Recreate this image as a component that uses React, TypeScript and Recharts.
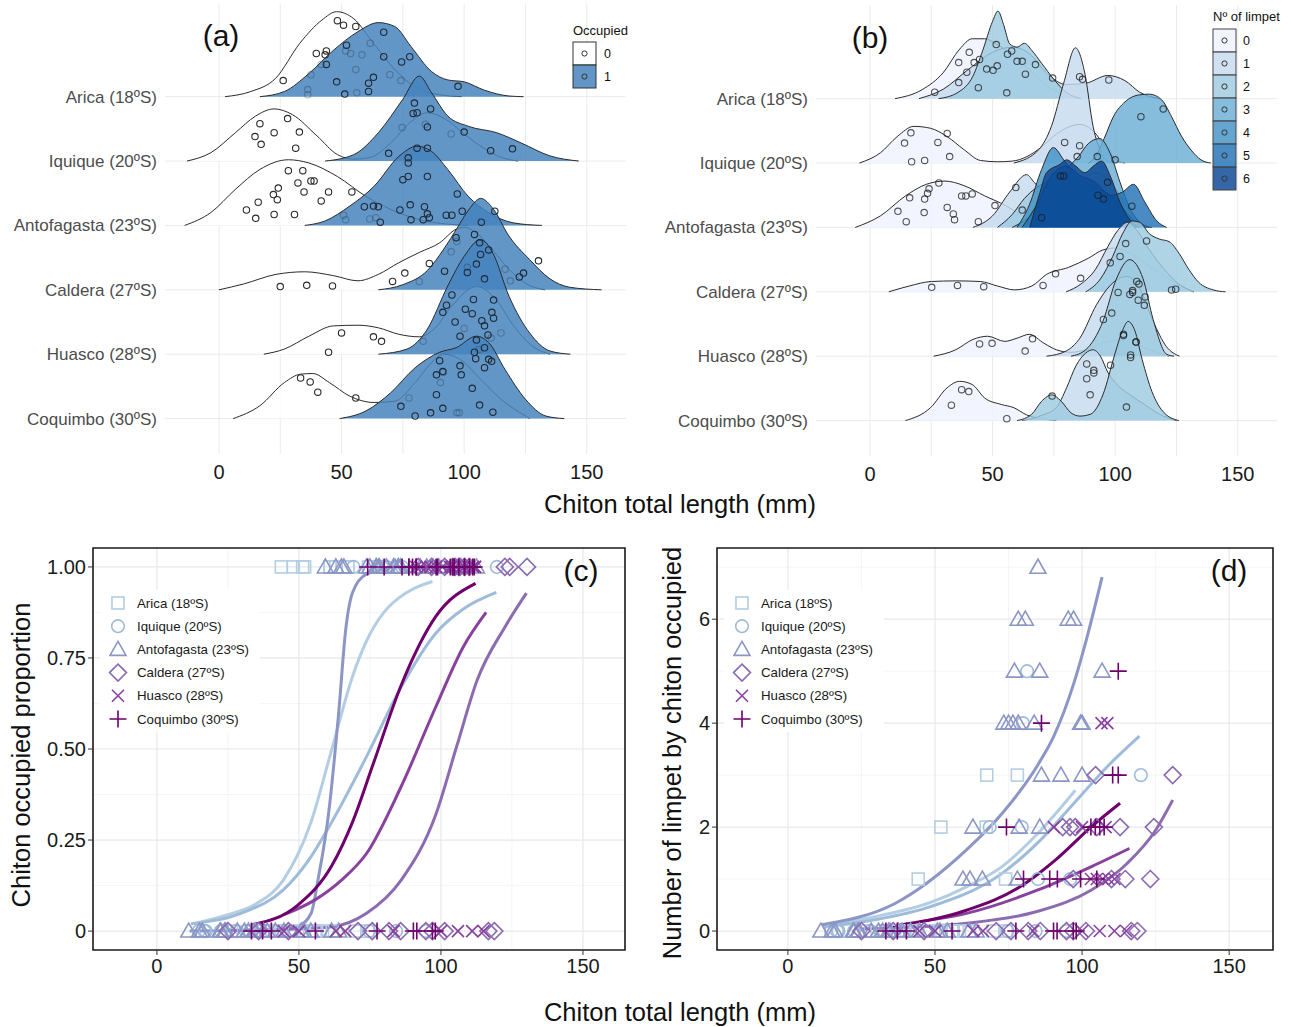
import React from "react";
import {
  Area,
  CartesianGrid,
  ComposedChart,
  Line,
  ReferenceArea,
  Scatter,
  XAxis,
  YAxis,
} from "recharts";

type Pair = [number, number];

const FONT = "'Liberation Sans', Arial, Helvetica, sans-serif";

const sites = [
  "Arica (18ºS)",
  "Iquique (20ºS)",
  "Antofagasta (23ºS)",
  "Caldera (27ºS)",
  "Huasco (28ºS)",
  "Coquimbo (30ºS)",
];

// ---- panel (a): density ridges by occupation (0 = free, 1 = occupied) ----
const aricaFree: Pair[] = [[2.5, 0], [13, 0.08], [23, 0.28], [33, 0.83], [42, 1.19], [48, 1.32], [55, 1.21], [63, 0.83], [72, 0.41], [80, 0.15], [90, 0.03], [99, 0]];
const aricaOcc: Pair[] = [[16.7, 0], [26.7, 0.08], [36.7, 0.36], [46.7, 0.72], [56.7, 1.01], [65, 1.15], [71.7, 1.09], [78.3, 0.78], [86.7, 0.39], [93.3, 0.26], [100, 0.23], [108.3, 0.1], [118.3, 0.01], [124.2, 0]];
const iquiqueFree: Pair[] = [[-13, 0], [-3.3, 0.13], [6.7, 0.44], [15, 0.7], [22.5, 0.81], [30, 0.72], [40, 0.39], [48.3, 0.1], [55, 0.03], [62, 0.06], [70, 0.28], [78, 0.6], [85, 0.75], [92, 0.66], [100, 0.42], [108, 0.2], [115, 0.06], [122, 0]];
const iquiqueOcc: Pair[] = [[43.3, 0], [55, 0.1], [65, 0.44], [75, 0.96], [81.7, 1.32], [86.7, 1.06], [93.3, 0.7], [101.7, 0.54], [113.3, 0.44], [123.3, 0.28], [135, 0.08], [146.7, 0]];
const antofaFree: Pair[] = [[-14, 0], [-3.3, 0.2], [6.7, 0.56], [16.7, 0.87], [28.3, 1.02], [36.7, 0.97], [48.3, 0.76], [60, 0.45], [70, 0.25], [81.7, 0.09], [93.3, 0.02], [101.7, 0]];
const antofaOcc: Pair[] = [[35, 0], [43.3, 0.07], [53.3, 0.3], [63.3, 0.61], [73.3, 1.07], [80.8, 1.23], [86.7, 1.15], [93.3, 0.87], [101.7, 0.45], [110, 0.2], [120, 0.04], [131.7, 0]];
const calderaFree: Pair[] = [[0, 0], [10, 0.09], [23.3, 0.24], [35, 0.28], [46.7, 0.22], [56.7, 0.14], [65, 0.24], [73.3, 0.42], [81.7, 0.58], [90, 0.73], [96.7, 0.94], [100, 0.97], [106, 0.85], [112, 0.6], [118, 0.33], [126, 0.08], [133, 0]];
const calderaOcc: Pair[] = [[65, 0], [75, 0.08], [85, 0.3], [92, 0.65], [97, 0.95], [102, 1.25], [106.7, 1.42], [112, 1.25], [118, 0.85], [126.7, 0.47], [135, 0.17], [143, 0.04], [156, 0]];
const huascoFree: Pair[] = [[18.3, 0], [26.7, 0.08], [36.7, 0.28], [46.7, 0.44], [56.7, 0.45], [65, 0.41], [73.3, 0.31], [81.7, 0.27], [88, 0.4], [95, 0.75], [105, 1.05], [113, 0.85], [120, 0.45], [128, 0.12], [135, 0]];
const huascoOcc: Pair[] = [[65, 0], [76.7, 0.08], [85, 0.39], [93.3, 1.06], [100, 1.52], [106.7, 1.78], [111.7, 1.57], [118.3, 0.9], [126.7, 0.33], [135, 0.05], [143.3, 0]];
const coquimboFree: Pair[] = [[5.8, 0], [16.7, 0.2], [26.7, 0.56], [33.3, 0.69], [38.3, 0.7], [45, 0.56], [53.3, 0.35], [63.3, 0.25], [71.7, 0.27], [80, 0.56], [86.7, 0.87], [91.7, 1.0], [98.3, 0.92], [106.7, 0.61], [115, 0.3], [125, 0.04], [126.7, 0]];
const coquimboOcc: Pair[] = [[49.2, 0], [60, 0.12], [70, 0.4], [80, 0.79], [90, 1.03], [96.7, 1.1], [105, 1.28], [110, 1.18], [116.7, 0.76], [125, 0.3], [133.3, 0.04], [140.8, 0]];

// chitons: [length, jitter height] ; free = no limpet, occ = with limpet
const aricaFreePts: Pair[] = [[26.2, 0.25], [37.5, 0.34], [39.7, 0.67], [43.3, 0.65], [43.8, 0.71], [41.7, 0.5], [48.3, 1.18], [50.8, 1.11], [51.7, 0.71], [53.7, 0.67], [55.8, 1.09], [58.3, 0.65], [61.7, 0.83], [55.8, 0.42], [56.2, 0.06], [69.7, 0.34], [74.2, 0.25], [36.2, 0.11], [36.2, 0.03]];
const aricaOccPts: Pair[] = [[52, 0.8], [67.2, 1.0], [43.8, 0.5], [48, 0.23], [63, 0.3], [61, 0.21], [61, 0.08], [51.3, 0.04], [74.5, 0.54], [77.8, 0.62], [97.5, 0.16], [67.2, 0.62]];
const iquiqueFreePts: Pair[] = [[16.7, 0.58], [14.7, 0.38], [17.2, 0.26], [22.5, 0.44], [28, 0.66], [32.8, 0.45], [31.3, 0.2], [74.7, 0.52], [84.2, 0.57], [94.7, 0.42]];
const iquiqueOccPts: Pair[] = [[79.7, 0.9], [79.2, 0.74], [80.8, 0.75], [86.3, 0.81], [85, 0.53], [100, 0.45], [110.8, 0.16], [119.7, 0.19], [69.2, 0.12]];
const antofaFreePts: Pair[] = [[28.3, 0.85], [34.2, 0.85], [37.5, 0.69], [38.8, 0.69], [32.2, 0.66], [24.2, 0.58], [22.2, 0.48], [23.8, 0.4], [34.7, 0.52], [44.7, 0.52], [41.7, 0.38], [16, 0.36], [11.2, 0.24], [15, 0.11], [22.5, 0.17], [30.8, 0.17], [54.2, 0.52], [50.8, 0.16], [51.7, 0.09], [61.5, 0.1], [64, 0.12]];
const antofaOccPts: Pair[] = [[80.8, 1.2], [85, 1.2], [77.2, 1.05], [77.2, 0.97], [75, 0.71], [77.2, 0.76], [85, 0.76], [97.2, 0.49], [78, 0.32], [73.8, 0.24], [83.8, 0.29], [85, 0.18], [78.3, 0.09], [83.3, 0.09], [85.8, 0.12], [65.8, 0.05], [59.3, 0.29], [63, 0.3], [65, 0.29], [92.7, 0.16], [95, 0.16], [99.2, 0.22], [112.5, 0.22], [107, 0.05]];
const calderaFreePts: Pair[] = [[25, 0.05], [35.8, 0.07], [46.3, 0.06], [70.8, 0.13], [75.8, 0.26], [85.8, 0.41], [81.7, 0.13], [94.7, 0.59], [101.3, 0.35], [116.7, 0.32], [118.8, 0.14], [97, 0.75]];
const calderaOccPts: Pair[] = [[104.2, 0.86], [96.7, 0.81], [106.3, 0.73], [106.7, 0.55], [92, 0.29], [101.3, 0.27], [108.3, 0.17], [130.3, 0.45], [124.2, 0.26], [122.5, 0.2], [105, 0.4], [110, 0.62]];
const huascoFreePts: Pair[] = [[50, 0.33], [63, 0.27], [66.3, 0.2], [44.7, 0.03], [83.3, 0.2], [100, 0.4], [106, 0.07], [111, 0.25], [115, 0.33]];
const huascoOccPts: Pair[] = [[95, 0.92], [103.8, 0.85], [112, 0.84], [92.8, 0.76], [91.3, 0.65], [100.5, 0.7], [111.3, 0.65], [112, 0.56], [107.2, 0.52], [96.3, 0.5], [103.3, 0.63], [108.3, 0.44], [98.3, 0.28], [109.7, 0.3], [105, 0.22]];
const coquimboFreePts: Pair[] = [[33.3, 0.63], [37.2, 0.57], [40.3, 0.41], [55.8, 0.32], [77.5, 0.32], [90.3, 0.56], [91.5, 0.72], [97, 0.09], [98, 0.09]];
const coquimboOccPts: Pair[] = [[90, 0.9], [98.3, 0.82], [88.7, 0.68], [91.3, 0.73], [98.8, 0.68], [88.7, 0.37], [74.2, 0.19], [91.3, 0.16], [86.3, 0.09], [80, 0.04], [103.3, 0.47], [106.3, 0.21], [111.7, 0.1], [104.2, 1.03], [104.7, 0.93], [108.3, 1.1], [108.3, 0.79], [110, 0.92], [111.2, 0.89]];

// ---- panel (b): density ridges by number of limpets ----
const aricaB0: Pair[] = [[10.2, 0], [21.3, 0.14], [29.8, 0.4], [36.6, 0.77], [41.7, 0.93], [46.8, 0.93], [51.9, 0.84], [58.7, 0.66], [65.5, 0.43], [72.3, 0.2], [79, 0.07], [86, 0]];
const aricaB1: Pair[] = [[20, 0], [30, 0.15], [40, 0.45], [50, 0.72], [58, 0.8], [65, 0.7], [72, 0.4], [80, 0.22], [88, 0.24], [97, 0.36], [104, 0.28], [110, 0.1], [118, 0]];
const aricaB2: Pair[] = [[28, 0], [36, 0.1], [42, 0.35], [46, 0.75], [50, 1.2], [52.2, 1.36], [54.5, 1.15], [57, 0.85], [60, 0.8], [63, 0.86], [66, 0.75], [70, 0.55], [75, 0.3], [80, 0.1], [86, 0]];
const iquiqueB0: Pair[] = [[-4.3, 0], [4.3, 0.16], [11.1, 0.41], [17.9, 0.57], [24.7, 0.54], [31.5, 0.41], [38.3, 0.21], [45.1, 0.04], [52, 0.02], [58, 0.03], [64, 0.1], [70, 0.25], [76, 0.45], [81, 0.56], [85.6, 0.6], [91, 0.5], [96, 0.25], [100, 0.06], [104, 0]];
const iquiqueB1: Pair[] = [[58.7, 0], [68.9, 0.21], [74, 0.57], [79, 1.24], [83.8, 1.79], [87.6, 1.4], [91, 0.57], [94.4, 0.16], [97.8, 0]];
const iquiqueB3: Pair[] = [[89, 0], [92, 0.1], [95.5, 0.38], [99.4, 0.73], [104, 0.95], [110, 1.06], [114, 1.07], [119, 0.98], [123, 0.72], [127, 0.42], [131, 0.2], [135, 0.05], [139, 0]];
const antofaB0: Pair[] = [[-6, 0], [4.3, 0.18], [14.5, 0.49], [23, 0.67], [30.6, 0.72], [38.3, 0.65], [46.8, 0.49], [55.3, 0.34], [62.1, 0.18], [68.9, 0.03], [72.3, 0]];
const antofaB1: Pair[] = [[42, 0], [50, 0.18], [57, 0.55], [63.9, 0.82], [67, 0.7], [72, 0.5], [80, 0.45], [90, 0.5], [100, 0.45], [106, 0.25], [110, 0.08], [114, 0]];
const antofaB2: Pair[] = [[52, 0], [58, 0.2], [63, 0.45], [68, 0.62], [74, 0.72], [80, 0.7], [86, 0.75], [92, 0.85], [97, 0.75], [102, 0.5], [107, 0.2], [111, 0.05], [115, 0]];
const antofaB3: Pair[] = [[58, 0], [66, 0.2], [74, 0.6], [80, 0.9], [85, 1.1], [89, 1.3], [93.7, 1.38], [98, 1.15], [102, 0.7], [106, 0.3], [110, 0.08], [114, 0]];
const antofaB4: Pair[] = [[60, 0], [65, 0.35], [70, 0.9], [74.8, 1.24], [79, 1.05], [84, 0.8], [90, 0.65], [96, 0.55], [102, 0.35], [108, 0.1], [113, 0]];
const antofaB5: Pair[] = [[62, 0], [68, 0.35], [74, 0.8], [80, 0.95], [86, 0.8], [92, 0.7], [98, 0.5], [103, 0.55], [107.5, 0.67], [112, 0.4], [117, 0.1], [121, 0]];
const antofaB6: Pair[] = [[65.2, 0], [69.3, 0.54], [72, 0.85], [77.5, 0.98], [80.2, 1.05], [84, 0.95], [87.7, 0.85], [91, 0.95], [94.5, 1.03], [98, 0.8], [102, 0.39], [107.5, 0.06], [110, 0]];
const calderaB0: Pair[] = [[7.7, 0], [16, 0.09], [25, 0.16], [35, 0.17], [45, 0.16], [52, 0.09], [59, 0.03], [66, 0.09], [72, 0.27], [81, 0.38], [89, 0.52], [95, 0.65], [100, 0.68], [106, 0.6], [112, 0.45], [118, 0.3], [124, 0.15], [132, 0]];
const calderaB1: Pair[] = [[80, 0], [86, 0.12], [92, 0.35], [97, 0.7], [101, 0.95], [105, 1.08], [109, 0.95], [114, 0.65], [120, 0.35], [126, 0.12], [132, 0]];
const calderaB2: Pair[] = [[88, 0], [94, 0.2], [99, 0.55], [103, 0.9], [107, 1.1], [110, 1.08], [114, 0.9], [118, 0.82], [122, 0.78], [126, 0.6], [130, 0.35], [134, 0.15], [140, 0.03], [145, 0]];
const huascoB0: Pair[] = [[26, 0], [35, 0.1], [42, 0.26], [48, 0.31], [55, 0.23], [60, 0.28], [65, 0.34], [71, 0.2], [76, 0.1], [82, 0.06], [88, 0.1], [95, 0.2], [102, 0.25], [108, 0.2], [115, 0.08], [122, 0]];
const huascoB1: Pair[] = [[72, 0], [80, 0.08], [85.6, 0.28], [92.4, 0.8], [98, 1.1], [104.6, 1.24], [110, 1.05], [115.5, 0.54], [120.9, 0.15], [126.3, 0]];
const huascoB2: Pair[] = [[82, 0], [88, 0.1], [95, 0.54], [100.5, 1.2], [105.9, 1.5], [111.4, 1.2], [115.5, 0.57], [121, 0.03], [124, 0]];
const coquimboB0: Pair[] = [[14.5, 0], [24.7, 0.2], [31.5, 0.51], [36.6, 0.61], [41.7, 0.56], [46.8, 0.35], [53.6, 0.25], [58.7, 0.2], [63.8, 0.09], [70, 0.03], [76, 0]];
const coquimboB1: Pair[] = [[62, 0], [70, 0.08], [76, 0.2], [80.2, 0.51], [84, 0.85], [88, 1.05], [90.9, 1.1], [94, 1.0], [97, 0.75], [101, 0.55], [106, 0.4], [112, 0.25], [118, 0.1], [125, 0]];
const coquimboB2: Pair[] = [[60, 0], [66, 0.1], [70, 0.3], [74.1, 0.4], [78, 0.3], [82, 0.12], [85.6, 0.07], [90, 0.1], [95, 0.4], [100, 1.05], [103, 1.4], [105.3, 1.54], [108, 1.4], [111, 0.95], [115, 0.45], [120, 0.12], [126, 0]];

const aricaBPts: Pair[] = [[26.4, 0.1], [36.2, 0.25], [36.2, 0.56], [40.5, 0.72], [42.5, 0.56], [39.5, 0.41], [44.7, 0.61], [44.2, 0.17], [51.5, 0.84], [51.9, 0.51], [50.2, 0.44], [47.6, 0.46], [56.1, 0.69], [57.8, 0.74], [60, 0.58], [62.1, 0.58], [63.4, 0.38], [67.5, 0.53], [74.5, 0.32], [85.5, 0.34], [86.7, 0.3], [97.4, 0.29], [55.8, 0.09]];
const iquiqueBPts: Pair[] = [[16.7, 0.47], [14.1, 0.31], [27.7, 0.32], [31.5, 0.46], [32.5, 0.1], [17, 0.02], [22.3, 0.04], [79.4, 0.32], [85.5, 0.27], [92.7, 0.1], [84.5, 0.1], [110.5, 0.72], [119.6, 0.84], [100, 0.05]];
const antofaBPts: Pair[] = [[28.1, 0.69], [24.1, 0.6], [23.5, 0.53], [22.3, 0.44], [16.2, 0.46], [11.4, 0.25], [14.8, 0.09], [22.1, 0.23], [31.5, 0.31], [34, 0.21], [34.5, 0.12], [37.4, 0.49], [39.1, 0.49], [41.7, 0.52], [44.2, 0.09], [51, 0.34], [59.5, 0.62], [62.1, 0.27], [77.7, 0.8], [79, 0.8], [96.9, 0.7], [95.2, 0.44], [106.8, 0.33], [93, 0.5], [70, 0.15]];
const calderaBPts: Pair[] = [[25.2, 0.07], [35.7, 0.1], [46.4, 0.08], [70.6, 0.1], [75.7, 0.28], [85.9, 0.21], [104.3, 0.75], [112.8, 0.79], [108.8, 0.16], [109.7, 0.12], [107.1, 0.02], [123, 0.03], [124.7, 0.04], [98, 0.45], [102, 0.55]];
const huascoBPts: Pair[] = [[44.7, 0.19], [49.8, 0.2], [66.3, 0.27], [63.3, 0.08], [101.2, 0.99], [107.1, 0.99], [106, 0.96], [109.4, 0.87], [112.2, 0.92], [111.9, 0.79], [98.6, 0.67], [95.2, 0.57], [103.4, 0.34], [108.5, 0.22], [106.3, 0.02]];
const coquimboBPts: Pair[] = [[37.4, 0.48], [40.3, 0.45], [33.2, 0.24], [55.8, 0.03], [74.3, 0.38], [88.4, 0.88], [91.3, 0.78], [91.3, 0.74], [88.4, 0.65], [89.8, 0.4], [98.1, 0.86], [103.4, 1.32], [108.5, 1.22], [106.3, 0.98], [104.6, 0.21]];

// ---- panel (c): fitted occupation probability ----
const aricaFitC: Pair[] = [[12.8, 0.02], [25, 0.045], [35, 0.075], [44.5, 0.14], [54.3, 0.3], [61.6, 0.5], [68.9, 0.7], [74, 0.8], [79.9, 0.875], [88, 0.93], [97, 0.96]];
const iquiqueFitC: Pair[] = [[12, 0.02], [30, 0.05], [44.5, 0.113], [53, 0.19], [61.6, 0.3], [73.8, 0.479], [86, 0.67], [98.2, 0.818], [108, 0.885], [119.5, 0.93]];
const antofaFitC: Pair[] = [[11.5, 0], [40, 0.003], [50, 0.015], [54.3, 0.049], [56.7, 0.14], [60.4, 0.32], [64, 0.6], [66.5, 0.83], [68.9, 0.93], [73.8, 0.98], [85, 1], [112, 1]];
const calderaFitC: Pair[] = [[25, 0.002], [45, 0.005], [61.6, 0.012], [73.8, 0.049], [86, 0.14], [98.2, 0.32], [105.5, 0.506], [112.8, 0.69], [122.6, 0.836], [130.1, 0.928]];
const huascoFitC: Pair[] = [[44.7, 0.045], [55.5, 0.085], [65, 0.14], [73.8, 0.213], [86, 0.397], [98.2, 0.616], [107.9, 0.781], [115.9, 0.875]];
const coquimboFitC: Pair[] = [[33.5, 0.017], [49.4, 0.07], [61.6, 0.18], [68.9, 0.3], [76.2, 0.46], [86, 0.675], [98.2, 0.864], [112.2, 0.955]];

// ---- panel (d): limpets per occupied chiton [length, count] ----
const aricaLimpets: Pair[] = [[67.6, 3], [78, 3], [52, 2], [67.4, 2], [44.3, 1], [74, 1]];
const iquiqueLimpets: Pair[] = [[81.3, 5], [79.9, 4], [120, 3], [68.6, 2], [79.5, 2], [85, 1], [96, 1]];
const antofaLimpets: Pair[] = [[85, 7], [78.3, 6], [80.7, 6], [95.3, 6], [97.1, 6], [77, 5], [85.6, 5], [106.8, 5], [73.4, 4], [75, 4], [76.5, 4], [78.3, 4], [83.7, 4], [99.5, 4], [100, 4], [86.2, 3], [92.8, 3], [100, 3], [62.9, 2], [78.6, 2], [85.6, 2], [59.5, 1], [61.9, 1], [66.1, 1], [78, 1]];
const calderaLimpets: Pair[] = [[104.6, 3], [130.8, 3], [93.4, 2], [95.9, 2], [97.7, 2], [105, 2], [112.9, 2], [124.4, 2], [97, 1], [110, 1], [114.7, 1], [123.2, 1]];
const huascoLimpets: Pair[] = [[106.6, 4], [108.6, 4], [90.4, 2], [100, 2], [108, 2], [103, 1], [105, 1], [107, 1], [109, 1], [111, 1]];
const coquimboLimpets: Pair[] = [[112.3, 5], [86.2, 4], [110.4, 3], [112.3, 3], [74.3, 2], [103, 2], [104.5, 2], [106, 2], [107.5, 2], [80.1, 1], [89, 1], [91.6, 1], [99.5, 1], [105, 1]];

const aricaFitD: Pair[] = [[12.1, 0.12], [30, 0.28], [48.5, 0.55], [60.7, 0.85], [72.8, 1.24], [85, 1.88], [97.7, 2.71]];
const iquiqueFitD: Pair[] = [[12.1, 0.08], [30, 0.22], [48.5, 0.47], [72.8, 1.11], [85, 1.7], [97.1, 2.45], [109.2, 3.2], [119.5, 3.75]];
const antofaFitD: Pair[] = [[11.5, 0.12], [36.4, 0.53], [60.7, 1.56], [72.8, 2.26], [85, 3.2], [90.4, 3.75], [97.1, 4.75], [101.9, 5.7], [106.8, 6.81]];
const calderaFitD: Pair[] = [[25, 0.04], [45, 0.08], [60.7, 0.15], [85, 0.38], [103.2, 0.79], [115.3, 1.3], [125, 1.94], [130.8, 2.52]];
const huascoFitD: Pair[] = [[44.7, 0.18], [60.7, 0.34], [85, 0.79], [103.2, 1.24], [116.1, 1.59]];
const coquimboFitD: Pair[] = [[33.4, 0.08], [60.7, 0.4], [78.9, 0.85], [91, 1.37], [103.2, 2.01], [112.9, 2.46]];

// ---- groupings ----
const densA = [
  [aricaFree, aricaOcc],
  [iquiqueFree, iquiqueOcc],
  [antofaFree, antofaOcc],
  [calderaFree, calderaOcc],
  [huascoFree, huascoOcc],
  [coquimboFree, coquimboOcc],
];
const ptsA = [
  [aricaFreePts, aricaOccPts],
  [iquiqueFreePts, iquiqueOccPts],
  [antofaFreePts, antofaOccPts],
  [calderaFreePts, calderaOccPts],
  [huascoFreePts, huascoOccPts],
  [coquimboFreePts, coquimboOccPts],
];
const densB: [number, Pair[]][][] = [
  [[0, aricaB0], [1, aricaB1], [2, aricaB2]],
  [[0, iquiqueB0], [1, iquiqueB1], [3, iquiqueB3]],
  [[0, antofaB0], [1, antofaB1], [2, antofaB2], [3, antofaB3], [4, antofaB4], [5, antofaB5], [6, antofaB6]],
  [[0, calderaB0], [1, calderaB1], [2, calderaB2]],
  [[0, huascoB0], [1, huascoB1], [2, huascoB2]],
  [[0, coquimboB0], [1, coquimboB1], [2, coquimboB2]],
];
const ptsB = [aricaBPts, iquiqueBPts, antofaBPts, calderaBPts, huascoBPts, coquimboBPts];
const fitsC = [aricaFitC, iquiqueFitC, antofaFitC, calderaFitC, huascoFitC, coquimboFitC];
const limpetsD = [aricaLimpets, iquiqueLimpets, antofaLimpets, calderaLimpets, huascoLimpets, coquimboLimpets];
const fitsD = [aricaFitD, iquiqueFitD, antofaFitD, calderaFitD, huascoFitD, coquimboFitD];

const siteColors = ["#b3cde3", "#9ebcda", "#8c96c6", "#8c6bb1", "#88419d", "#6e016b"];
const siteShapes = ["square", "circle", "triangle", "diamond", "cross", "plus"];
const limpetFills = ["#eff3ff", "#c6dbef", "#9ecae1", "#6baed6", "#4292c6", "#2171b5", "#084594"];
const OCC_BLUE = "#4584bd";

const axisTick = { fontSize: 20, fill: "#1a1a1a", fontFamily: FONT };
const rowTick = { fontSize: 17, fill: "#4d4d4d", fontFamily: FONT };

const toRidge = (pts: Pair[], row: number) => pts.map(([x, h]) => ({ x, y: row + h }));
const toXY = (pts: Pair[]) => pts.map(([x, y]) => ({ x, y }));

const densityAt = (pts: Pair[], x: number) => {
  for (let i = 1; i < pts.length; i++) {
    const [x0, h0] = pts[i - 1];
    const [x1, h1] = pts[i];
    if (x >= x0 && x <= x1) return h0 + ((h1 - h0) * (x - x0)) / (x1 - x0);
  }
  return 0;
};

const ring = (stroke: string) => (p: any) => (
  <circle cx={p.cx} cy={p.cy} r={3.2} fill="none" stroke={stroke} strokeWidth={1.1} />
);

function Marker({ kind, cx, cy, color }: { kind: string; cx: number; cy: number; color: string }) {
  const sw = 1.6;
  if (kind === "square")
    return <rect x={cx - 6} y={cy - 6} width={12} height={12} fill="none" stroke={color} strokeWidth={sw} />;
  if (kind === "circle") return <circle cx={cx} cy={cy} r={6.3} fill="none" stroke={color} strokeWidth={sw} />;
  if (kind === "triangle")
    return (
      <polygon
        points={`${cx},${cy - 8} ${cx - 8},${cy + 6} ${cx + 8},${cy + 6}`}
        fill="none"
        stroke={color}
        strokeWidth={sw}
      />
    );
  if (kind === "diamond")
    return (
      <polygon
        points={`${cx},${cy - 8.5} ${cx + 8.5},${cy} ${cx},${cy + 8.5} ${cx - 8.5},${cy}`}
        fill="none"
        stroke={color}
        strokeWidth={sw}
      />
    );
  if (kind === "cross")
    return (
      <path d={`M${cx - 6},${cy - 6}L${cx + 6},${cy + 6}M${cx - 6},${cy + 6}L${cx + 6},${cy - 6}`} stroke={color} strokeWidth={sw} />
    );
  return <path d={`M${cx - 8.5},${cy}L${cx + 8.5},${cy}M${cx},${cy - 8.5}L${cx},${cy + 8.5}`} stroke={color} strokeWidth={sw} />;
}

const RIDGE_TICKS = [0, 25, 50, 75, 100, 125, 150];
const ROWS = [1, 2, 3, 4, 5, 6];

function ridgeAxes() {
  return [
    <CartesianGrid key="grid" verticalValues={RIDGE_TICKS} horizontalValues={ROWS} stroke="#ebebeb" strokeWidth={1} />,
    <XAxis
      key="x"
      type="number"
      dataKey="x"
      domain={[-22, 166]}
      ticks={RIDGE_TICKS}
      tickFormatter={(v: number) => (v % 50 === 0 ? String(v) : "")}
      height={36}
      tickLine={false}
      axisLine={false}
      tickMargin={5}
      tick={axisTick}
      allowDataOverflow
    />,
    <YAxis
      key="y"
      type="number"
      dataKey="y"
      domain={[0.45, 7.45]}
      ticks={ROWS}
      tickFormatter={(v: number) => sites[6 - v] ?? ""}
      width={165}
      tickLine={false}
      axisLine={false}
      tick={rowTick}
      allowDataOverflow
    />,
  ];
}

function PanelA() {
  const items: React.ReactNode[] = [];
  densA.forEach(([free, occ], i) => {
    const row = 6 - i;
    const [freePts, occPts] = ptsA[i];
    const hidden = freePts.filter(([x, h]) => densityAt(occ, x) > h);
    const shown = freePts.filter(([x, h]) => densityAt(occ, x) <= h);
    items.push(
      <Area key={`f${i}`} data={toRidge(free, row)} dataKey="y" baseValue={row} type="monotone" fill="#ffffff" fillOpacity={0.85} stroke="#2b2b2b" strokeWidth={1} dot={false} activeDot={false} isAnimationActive={false} />,
      <Scatter key={`fp${i}`} data={toRidge(shown, row)} dataKey="y" shape={ring("#2b2b2b")} isAnimationActive={false} />,
      <Scatter key={`fh${i}`} data={toRidge(hidden, row)} dataKey="y" shape={ring("rgba(40,55,75,0.35)")} isAnimationActive={false} />,
      <Area key={`o${i}`} data={toRidge(occ, row)} dataKey="y" baseValue={row} type="monotone" fill={OCC_BLUE} fillOpacity={0.85} stroke="#2b2b2b" strokeWidth={1} dot={false} activeDot={false} isAnimationActive={false} />,
      <Scatter key={`op${i}`} data={toRidge(occPts, row)} dataKey="y" shape={ring("#1f2a36")} isAnimationActive={false} />
    );
  });
  return (
    <ComposedChart width={640} height={490} margin={{ top: 3.3, right: 14, bottom: 0, left: 0 }}>
      {ridgeAxes()}
      {items}
    </ComposedChart>
  );
}

function PanelB() {
  const items: React.ReactNode[] = [];
  densB.forEach((groups, i) => {
    const row = 6 - i;
    groups.forEach(([g, dens]) => {
      items.push(
        <Area key={`b${i}-${g}`} data={toRidge(dens, row)} dataKey="y" baseValue={row} type="monotone" fill={limpetFills[g]} fillOpacity={0.82} stroke="#2b2b2b" strokeWidth={1} dot={false} activeDot={false} isAnimationActive={false} />
      );
    });
    items.push(
      <Scatter key={`bp${i}`} data={toRidge(ptsB[i], row)} dataKey="y" shape={ring("rgba(30,30,30,0.75)")} isAnimationActive={false} />
    );
  });
  return (
    <ComposedChart width={640} height={490} margin={{ top: 3.3, right: 14, bottom: 0, left: 0 }}>
      {ridgeAxes()}
      {items}
    </ComposedChart>
  );
}

const shapeFor = (i: number) => (p: any) => <Marker kind={siteShapes[i]} cx={p.cx} cy={p.cy} color={siteColors[i]} />;

function PanelC() {
  const X0 = -22.5, X1 = 164.8, Y0 = -0.052, Y1 = 1.052;
  return (
    <ComposedChart width={640} height={450} margin={{ top: 8, right: 15, bottom: 0, left: 0 }}>
      <CartesianGrid verticalValues={[25, 75, 125]} horizontalValues={[0.125, 0.375, 0.625, 0.875]} stroke="#f2f2f2" strokeWidth={0.8} />
      <CartesianGrid verticalValues={[0, 50, 100, 150]} horizontalValues={[0, 0.25, 0.5, 0.75, 1]} stroke="#e8e8e8" strokeWidth={1.2} />
      <XAxis type="number" dataKey="x" domain={[X0, X1]} ticks={[0, 50, 100, 150]} height={40} tickSize={5} tickMargin={4} axisLine={false} tickLine={{ stroke: "#333" }} tick={axisTick} allowDataOverflow />
      <YAxis type="number" dataKey="y" domain={[Y0, Y1]} ticks={[0, 0.25, 0.5, 0.75, 1]} tickFormatter={(v: number) => (v === 0 ? "0" : v.toFixed(2))} width={93} tickSize={5} tickMargin={2} axisLine={false} tickLine={{ stroke: "#333" }} tick={axisTick} allowDataOverflow />
      <ReferenceArea x1={X0} x2={X1} y1={Y0} y2={Y1} fill="none" stroke="#1a1a1a" strokeWidth={1.6} ifOverflow="visible" />
      {ptsA.map(([free, occ], i) => (
        <Scatter key={`c${i}`} data={[...free.map(([x]) => ({ x, y: 0 })), ...occ.map(([x]) => ({ x, y: 1 }))]} dataKey="y" shape={shapeFor(i)} isAnimationActive={false} />
      ))}
      {fitsC.map((fit, i) => (
        <Line key={`cl${i}`} data={toXY(fit)} dataKey="y" type="monotone" stroke={siteColors[i]} strokeWidth={3} dot={false} activeDot={false} isAnimationActive={false} />
      ))}
    </ComposedChart>
  );
}

function PanelD() {
  const X0 = -24.1, X1 = 164.9, Y0 = -0.365, Y1 = 7.37;
  return (
    <ComposedChart width={640} height={450} margin={{ top: 8, right: 18, bottom: 0, left: 0 }}>
      <CartesianGrid verticalValues={[25, 75, 125]} horizontalValues={[1, 3, 5, 7]} stroke="#f2f2f2" strokeWidth={0.8} />
      <CartesianGrid verticalValues={[0, 50, 100, 150]} horizontalValues={[0, 2, 4, 6]} stroke="#e8e8e8" strokeWidth={1.2} />
      <XAxis type="number" dataKey="x" domain={[X0, X1]} ticks={[0, 50, 100, 150]} height={40} tickSize={5} tickMargin={4} axisLine={false} tickLine={{ stroke: "#333" }} tick={axisTick} allowDataOverflow />
      <YAxis type="number" dataKey="y" domain={[Y0, Y1]} ticks={[0, 2, 4, 6]} width={66} tickSize={5} tickMargin={2} axisLine={false} tickLine={{ stroke: "#333" }} tick={axisTick} allowDataOverflow />
      <ReferenceArea x1={X0} x2={X1} y1={Y0} y2={Y1} fill="none" stroke="#1a1a1a" strokeWidth={1.6} ifOverflow="visible" />
      {ptsA.map(([free], i) => (
        <Scatter key={`d${i}`} data={[...free.map(([x]) => ({ x, y: 0 })), ...toXY(limpetsD[i])]} dataKey="y" shape={shapeFor(i)} isAnimationActive={false} />
      ))}
      {fitsD.map((fit, i) => (
        <Line key={`dl${i}`} data={toXY(fit)} dataKey="y" type="monotone" stroke={siteColors[i]} strokeWidth={3} dot={false} activeDot={false} isAnimationActive={false} />
      ))}
    </ComposedChart>
  );
}

function SiteLegend({ x, y }: { x: number; y: number }) {
  return (
    <g>
      <rect x={x - 18} y={y - 13} width={160} height={142} fill="#fff" />
      {sites.map((s, i) => (
        <g key={s}>
          <Marker kind={siteShapes[i]} cx={x} cy={y + i * 23.2} color={siteColors[i]} />
          <text x={x + 19} y={y + i * 23.2 + 4.5} fontSize={13.3} fill="#1a1a1a" fontFamily={FONT}>
            {s}
          </text>
        </g>
      ))}
    </g>
  );
}

function Overlay() {
  const t = { fontFamily: FONT, fill: "#111" };
  return (
    <svg width={1291} height={1027} style={{ position: "absolute", left: 0, top: 0, pointerEvents: "none" }}>
      <text x={221} y={46} fontSize={30} textAnchor="middle" {...t}>(a)</text>
      <text x={870} y={48} fontSize={30} textAnchor="middle" {...t}>(b)</text>
      <text x={581} y={581} fontSize={30} textAnchor="middle" {...t}>(c)</text>
      <text x={1229} y={581} fontSize={30} textAnchor="middle" {...t}>(d)</text>
      <text x={680} y={513} fontSize={25.5} textAnchor="middle" {...t}>Chiton total length (mm)</text>
      <text x={680} y={1021} fontSize={25.5} textAnchor="middle" {...t}>Chiton total length (mm)</text>
      <text x={30} y={755} fontSize={25.5} textAnchor="middle" transform="rotate(-90 30 755)" {...t}>Chiton occupied proportion</text>
      <text x={681} y={753} fontSize={25.5} textAnchor="middle" transform="rotate(-90 681 753)" {...t}>Number of limpet by chiton occupied</text>

      <text x={573} y={35} fontSize={13} {...t}>Occupied</text>
      {[0, 1].map((g) => (
        <g key={g}>
          <rect x={573} y={42 + g * 23} width={23} height={23} fill={g === 0 ? "#fff" : OCC_BLUE} fillOpacity={g === 0 ? 1 : 0.85} stroke="#333" strokeWidth={1} />
          <circle cx={584.5} cy={53.5 + g * 23} r={2.6} fill="none" stroke="#333" strokeWidth={1} />
          <text x={604} y={58 + g * 23} fontSize={12.5} {...t}>{g}</text>
        </g>
      ))}

      <text x={1213} y={21} fontSize={13} {...t}>Nº of limpet</text>
      {limpetFills.map((c, g) => (
        <g key={c}>
          <rect x={1213} y={29 + g * 23} width={23} height={23} fill={c} fillOpacity={0.82} stroke="#444" strokeWidth={1} />
          <circle cx={1224.5} cy={40.5 + g * 23} r={2.6} fill="none" stroke="#333" strokeWidth={1} />
          <text x={1243} y={45 + g * 23} fontSize={12.5} {...t}>{g}</text>
        </g>
      ))}

      <SiteLegend x={118} y={603} />
      <SiteLegend x={742} y={603} />
    </svg>
  );
}

export default function App() {
  return (
    <div style={{ position: "absolute", left: 0, top: 0, width: 1291, height: 1027, background: "#fff", fontFamily: FONT }}>
      <div style={{ position: "absolute", left: 0, top: 0 }}>
        <PanelA />
      </div>
      <div style={{ position: "absolute", left: 651, top: 1.5 }}>
        <PanelB />
      </div>
      <div style={{ position: "absolute", left: 0, top: 540 }}>
        <PanelC />
      </div>
      <div style={{ position: "absolute", left: 651, top: 540 }}>
        <PanelD />
      </div>
      <Overlay />
    </div>
  );
}
